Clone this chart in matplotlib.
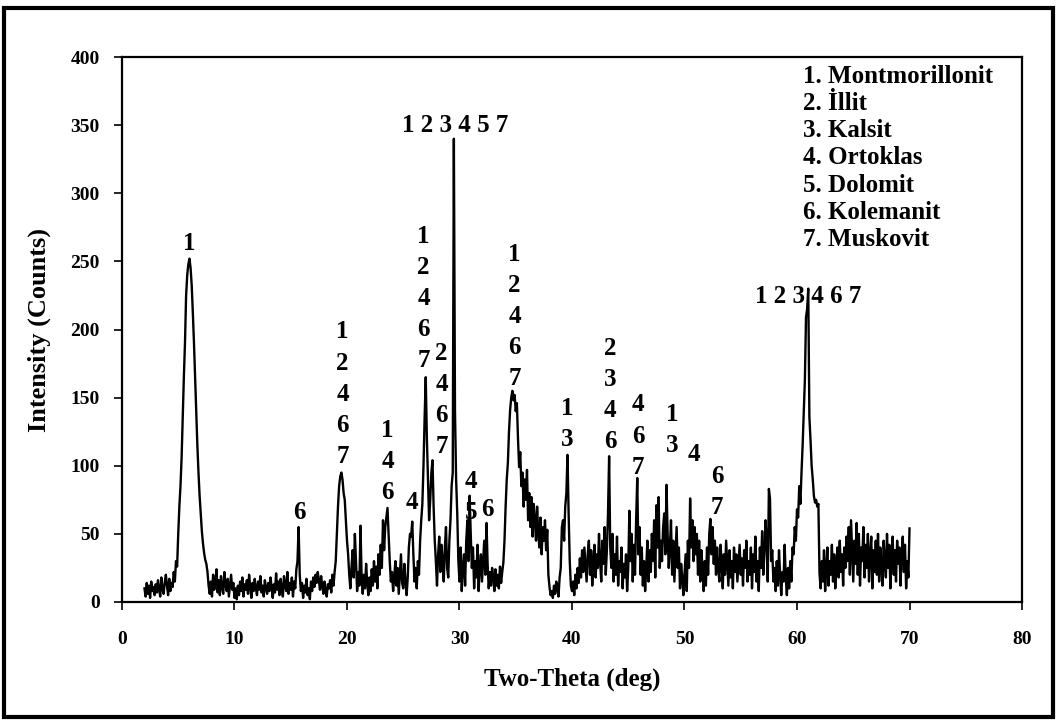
import matplotlib
matplotlib.use("Agg")
import matplotlib.pyplot as plt
import numpy as np
from matplotlib.patches import Rectangle

plt.rcParams['font.family'] = ['Liberation Serif', 'DejaVu Serif']
plt.rcParams['font.weight'] = 'bold'

# XRD scan, 2-70 deg, 0.1 deg step (one row per degree)
start_deg = 2.0
step_deg = 0.1
counts = [
    10, 4, 14, 6, 12, 3, 15, 8, 11, 5,            # 2
    13, 7, 16, 9, 4, 18, 10, 6, 14, 20,           # 3
    12, 5, 17, 8, 14, 11, 22, 15, 30, 26,         # 4
    50, 70, 85, 106, 135, 165, 190, 225, 240, 248,  # 5
    252, 245, 232, 212, 190, 165, 140, 115, 95, 78,  # 6
    65, 52, 43, 36, 31, 28, 22, 12, 6, 15,        # 7
    4, 20, 9, 14, 24, 7, 16, 5, 19, 11,           # 8
    6, 22, 13, 8, 17, 4, 12, 20, 9, 14,           # 9
    3, 10, 2, 12, 5, 15, 8, 18, 4, 13,            # 10
    9, 16, 6, 20, 11, 3, 14, 8, 17, 10,           # 11
    5, 15, 9, 19, 7, 12, 4, 16, 10, 6,            # 12
    14, 8, 18, 11, 3, 13, 7, 21, 9, 15,           # 13
    5, 17, 10, 4, 19, 12, 8, 22, 6, 14,           # 14
    9, 18, 4, 15, 10, 24, 30, 55, 20, 8,          # 15
    14, 3, 12, 7, 17, 5, 10, 2, 15, 8,            # 16
    18, 11, 20, 14, 22, 16, 9, 19, 12, 6,         # 17
    15, 8, 4, 13, 10, 16, 7, 20, 12, 22,          # 18
    30, 50, 70, 85, 92, 95, 90, 80, 75, 60,       # 19
    45, 35, 20, 10, 25, 38, 18, 50, 30, 8,        # 20
    22, 12, 56, 18, 6, 20, 10, 28, 14, 5,         # 21
    18, 8, 24, 12, 30, 15, 26, 10, 35, 20,        # 22
    42, 25, 60, 38, 55, 62, 69, 50, 30, 15,       # 23
    22, 8, 18, 30, 12, 25, 6, 20, 35, 14,         # 24
    10, 28, 15, 5, 18, 40, 50, 48, 59, 35,        # 25
    15, 25, 10, 30, 20, 45, 60, 72, 100, 135,     # 26
    165, 120, 90, 60, 75, 95, 104, 70, 45, 30,    # 27
    12, 35, 48, 22, 42, 30, 15, 40, 55, 25,       # 28
    18, 45, 60, 85, 95, 340, 140, 90, 65, 30,     # 29
    15, 40, 8, 25, 35, 12, 45, 60, 30, 78,        # 30
    50, 25, 40, 10, 30, 18, 42, 8, 26, 35,        # 31
    15, 30, 45, 20, 58, 28, 10, 22, 12, 25,       # 32
    18, 8, 24, 12, 20, 10, 26, 14, 22, 29,        # 33
    45, 70, 90, 102, 125, 141, 150, 155, 148, 152,  # 34
    140, 146, 120, 99, 110, 85, 95, 70, 90, 75,   # 35
    97, 60, 80, 55, 77, 48, 72, 60, 45, 70,       # 36
    50, 40, 62, 35, 55, 45, 60, 38, 53, 20,       # 37
    11, 5, 8, 3, 12, 6, 15, 10, 4, 18,            # 38
    25, 55, 60, 45, 70, 80, 108, 65, 30, 12,      # 39
    8, 15, 5, 20, 10, 25, 14, 32, 18, 38,         # 40
    22, 40, 28, 15, 35, 45, 20, 38, 12, 30,       # 41
    42, 18, 35, 25, 50, 30, 15, 45, 28, 55,       # 42
    20, 38, 65, 107, 40, 25, 50, 15, 35, 20,      # 43
    48, 12, 30, 22, 40, 10, 28, 18, 35, 8,        # 44
    25, 67, 30, 50, 15, 42, 20, 60, 91, 35,       # 45
    55, 20, 40, 12, 30, 8, 25, 45, 15, 38,        # 46
    22, 50, 30, 60, 18, 71, 40, 77, 25, 45,       # 47
    30, 55, 65, 35, 86, 50, 25, 40, 60, 20,       # 48
    45, 15, 35, 55, 25, 40, 10, 28, 18, 5,        # 49
    20, 35, 8, 45, 25, 76, 40, 60, 30, 55,        # 50
    35, 50, 20, 45, 15, 38, 25, 8, 30, 12,        # 51
    40, 20, 50, 61, 35, 55, 28, 45, 20, 40,       # 52
    25, 15, 42, 30, 10, 35, 20, 45, 28, 12,       # 53
    38, 18, 30, 10, 40, 22, 35, 15, 28, 42,       # 54
    20, 32, 12, 38, 25, 45, 15, 30, 20, 40,       # 55
    10, 35, 22, 48, 15, 30, 8, 40, 25, 52,        # 56
    20, 35, 60, 45, 15, 83, 76, 30, 38, 15,       # 57
    25, 8, 30, 12, 38, 20, 5, 22, 15, 42,         # 58
    18, 5, 25, 10, 30, 15, 40, 35, 55, 45,        # 59
    68, 62, 85, 72, 95, 115, 140, 163, 209, 215,  # 60
    230, 136, 119, 100, 90, 78, 73, 75, 70, 72,   # 61
    21, 10, 30, 15, 38, 8, 25, 40, 12, 30,        # 62
    20, 42, 15, 35, 10, 28, 40, 18, 45, 22,       # 63
    35, 12, 40, 25, 48, 30, 55, 20, 60, 38,       # 64
    15, 45, 28, 58, 20, 50, 12, 40, 30, 55,       # 65
    18, 42, 25, 50, 15, 35, 48, 10, 38, 22,       # 66
    45, 20, 50, 15, 40, 28, 12, 45, 30, 18,       # 67
    50, 25, 42, 10, 35, 48, 20, 38, 15, 45,       # 68
    28, 40, 12, 35, 48, 22, 42, 10, 30, 18,       # 69
    54,                                           # 70
]
two_theta = start_deg + step_deg * np.arange(len(counts))

# phase labels: (2theta, intensity of lowest line, labels, stacked?)
peak_labels = [
    (6.0, 263, "1", True),
    (15.8, 66, "6", True),
    (19.6, 107, "12467", True),
    (23.6, 80, "146", True),
    (25.8, 73, "4", True),
    (26.8, 177, "12467", True),
    (28.4, 114, "2467", True),
    (31.0, 66, "45", True),
    (32.5, 68, "6", True),
    (34.9, 164, "12467", True),
    (39.6, 119, "13", True),
    (43.4, 118, "2346", True),
    (45.9, 99, "467", True),
    (48.9, 115, "13", True),
    (50.8, 108, "4", True),
    (52.9, 69, "67", True),
    (29.6, 350, "1 2 3 4 5 7", False),
    (61.0, 224, "1 2 3 4 6 7", False),
]
phases = ["1. Montmorillonit", "2. İllit", "3. Kalsit", "4. Ortoklas",
          "5. Dolomit", "6. Kolemanit", "7. Muskovit"]

fig = plt.figure(figsize=(10.57, 7.2), dpi=100)
ax = fig.add_axes([0.1154, 0.1639, 0.8515, 0.7569])

ax.plot(two_theta, counts, color='black', linewidth=1.7)

ax.set_xlim(0, 80)
ax.set_ylim(0, 400)
ax.set_xticks(np.arange(0, 81, 10))
ax.set_yticks(np.arange(0, 401, 50))
ax.tick_params(direction='out', length=6, width=1.2, labelsize=14)
ax.tick_params(axis='x', pad=15)
ax.tick_params(axis='y', pad=10)
for sp in ax.spines.values():
    sp.set_linewidth(1.6)

ax.set_xlabel('Two-Theta (deg)', fontsize=18, fontweight='bold', labelpad=14)
ax.set_ylabel('Intensity (Counts)', fontsize=19, fontweight='bold', labelpad=14)

line_step = 22.8  # vertical spacing of stacked labels, in counts
for x, y, lab, stacked in peak_labels:
    if stacked:
        for k, ch in enumerate(lab[::-1]):
            ax.text(x, y + k * line_step, ch, ha='center', va='center',
                    fontsize=18, fontweight='bold')
    else:
        ax.text(x, y, lab, ha='center', va='center', fontsize=18,
                fontweight='bold')

for i, name in enumerate(phases):
    ax.text(60.5, 386 - i * 20, name, ha='left', va='center',
            fontsize=18, fontweight='bold')

# outer frame
fig.patches.append(Rectangle((0.004, 0.004), 0.992, 0.985, transform=fig.transFigure,
                             fill=False, edgecolor='black', linewidth=3))

fig.savefig('out.png', dpi=100)
